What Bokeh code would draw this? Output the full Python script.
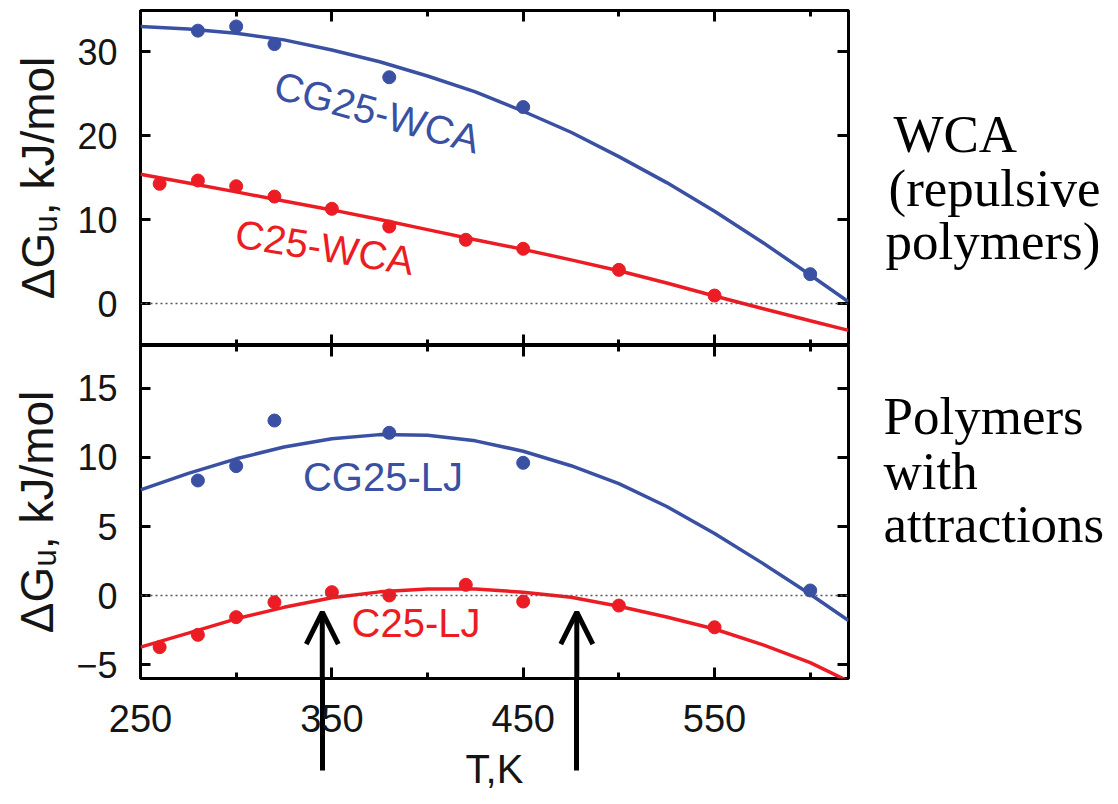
from bokeh.plotting import figure
from bokeh.layouts import column, row
from bokeh.models import (Range1d, LinearAxis, FixedTicker, Span, Label, Arrow, OpenHead,
                          CustomLabelingPolicy)
from bokeh.embed import file_html
from bokeh.resources import INLINE

# ---------------- data ----------------
T_curve = [250, 275, 300, 325, 350, 375, 400, 425, 450, 475, 500, 525, 550, 575, 600, 620]

# Top panel: WCA (repulsive polymers)
cg25_wca_T = [280, 300, 320, 380, 450, 600]
cg25_wca_G = [32.5, 33.0, 30.9, 26.95, 23.4, 3.5]
cg25_wca_fit = [33.0, 32.7, 32.2, 31.4, 30.2, 28.8, 27.1, 25.2, 22.9, 20.4, 17.5, 14.4, 11.0, 7.3, 3.4, 0.2]

c25_wca_T = [260, 280, 300, 320, 350, 380, 420, 450, 500, 550]
c25_wca_G = [14.26, 14.65, 13.97, 12.74, 11.28, 9.17, 7.59, 6.52, 4.01, 0.95]
c25_wca_fit = [15.4, 14.35, 13.3, 12.2, 11.15, 10.0, 8.8, 7.6, 6.45, 5.2, 3.9, 2.45, 0.9, -0.6, -2.05, -3.2]

# Bottom panel: polymers with attractions (LJ)
cg25_lj_T = [280, 300, 320, 380, 450, 600]
cg25_lj_G = [8.33, 9.37, 12.67, 11.78, 9.61, 0.37]
cg25_lj_fit = [7.65, 8.85, 9.9, 10.75, 11.35, 11.65, 11.6, 11.2, 10.45, 9.4, 8.1, 6.45, 4.5, 2.35, 0.1, -1.8]

c25_lj_T = [260, 280, 300, 320, 350, 380, 420, 450, 500, 550]
c25_lj_G = [-3.73, -2.84, -1.56, -0.48, 0.25, 0.01, 0.78, -0.43, -0.72, -2.29]
c25_lj_fit = [-3.73, -2.72, -1.68, -0.85, -0.15, 0.27, 0.48, 0.48, 0.25, -0.12, -0.77, -1.55, -2.42, -3.55, -4.85, -6.2]

# arrows marking where the C25-LJ curve crosses zero
arrow_T = [345, 478]

x_major = [250, 350, 450, 550]
x_minor = [300, 400, 500, 600]
top_yticks = [0, 10, 20, 30]
bot_yticks = [-5, 0, 5, 10, 15]

X0, X1 = 250, 620
TOP_Y = (-5, 34.9)
BOT_Y = (-6, 18.1)

BLUE = "#3a50a2"
RED = "#ec1c24"
SANS = "Liberation Sans"
SERIF = "Liberation Serif"
TXT = "#151515"


def no_labels():
    return CustomLabelingPolicy(code="for (const i of indices) indices.unset(i); return indices")


def tick_axis(ticker):
    return LinearAxis(ticker=ticker, axis_line_color=None,
                      major_tick_in=11, major_tick_out=0, minor_tick_in=6, minor_tick_out=0,
                      major_tick_line_width=3, minor_tick_line_width=3,
                      major_tick_line_color="black", minor_tick_line_color="black",
                      major_label_text_font_size="0px", major_label_standoff=0,
                      major_label_policy=no_labels())


def left_axis(yticks):
    return LinearAxis(ticker=FixedTicker(ticks=yticks, minor_ticks=[]), axis_line_color=None,
                      major_tick_in=10, major_tick_out=0, minor_tick_in=0, minor_tick_out=0,
                      major_tick_line_width=3, major_tick_line_color="black",
                      major_label_standoff=23, major_label_text_font=SANS,
                      major_label_text_font_size="36px", major_label_text_color=TXT,
                      major_label_overrides={-5: "\u22125"},
                      axis_label="\u0394G\u1d64, kJ/mol", axis_label_text_font=SANS,
                      axis_label_text_font_size="46px", axis_label_text_font_style="normal",
                      axis_label_text_color=TXT, axis_label_standoff=10)


def base_fig(yr, fh, b_top, b_bottom):
    return figure(x_range=Range1d(X0, X1), y_range=Range1d(*yr),
                  frame_width=708, frame_height=fh,
                  min_border_left=140, min_border_right=2,
                  min_border_top=b_top, min_border_bottom=b_bottom,
                  x_axis_type=None, y_axis_type=None,
                  toolbar_location=None, output_backend="svg",
                  background_fill_color="white", border_fill_color="white",
                  outline_line_color="black", outline_line_width=3)


xt = lambda: FixedTicker(ticks=x_major, minor_ticks=x_minor)
yt = lambda t: FixedTicker(ticks=t, minor_ticks=[])

# ---------------- top panel ----------------
top = base_fig(TOP_Y, 335, 10, 0)
top.add_layout(left_axis(top_yticks), "left")
top.add_layout(tick_axis(yt(top_yticks)), "right")
top.add_layout(tick_axis(xt()), "above")
top.add_layout(tick_axis(xt()), "below")
top.add_layout(Span(location=0, dimension="width", line_color="#555555",
                    line_width=1.5, line_dash="2 3"))

top.line(T_curve, cg25_wca_fit, line_color=BLUE, line_width=3.5)
top.line(T_curve, c25_wca_fit, line_color=RED, line_width=3.5)
top.scatter(cg25_wca_T, cg25_wca_G, size=13, fill_color=BLUE, line_color=BLUE)
top.scatter(c25_wca_T, c25_wca_G, size=13, fill_color=RED, line_color=RED)

top.add_layout(Label(x=373.7, y=22.8, text="CG25-WCA", angle=-0.27, text_align="center",
                     text_baseline="middle", text_font=SANS, text_font_size="40px",
                     text_color=BLUE))
top.add_layout(Label(x=346.2, y=6.7, text="C25-WCA", angle=-0.157, text_align="center",
                     text_baseline="middle", text_font=SANS, text_font_size="40px",
                     text_color=RED))

# ---------------- bottom panel ----------------
bot = base_fig(BOT_Y, 333, 0, 126)
bot.add_layout(left_axis(bot_yticks), "left")
bot.add_layout(tick_axis(yt(bot_yticks)), "right")
bot.add_layout(tick_axis(xt()), "above")

# lower shafts of the two arrows: outward ticks of a label-less axis (size 0, nearest the frame)
arrow_axis = LinearAxis(ticker=FixedTicker(ticks=arrow_T, minor_ticks=[]), axis_line_color=None,
                        major_tick_in=-92, major_tick_out=0, minor_tick_in=0, minor_tick_out=0,
                        major_tick_line_width=5, major_tick_line_color="black",
                        major_label_text_font_size="0px", major_label_standoff=0,
                        major_label_policy=no_labels())
bot.add_layout(arrow_axis, "below")

bottom_axis = LinearAxis(ticker=xt(), axis_line_color=None,
                         major_tick_in=11, major_tick_out=0, minor_tick_in=6, minor_tick_out=0,
                         major_tick_line_width=3, minor_tick_line_width=3,
                         major_tick_line_color="black", minor_tick_line_color="black",
                         major_label_standoff=26, major_label_text_font=SANS,
                         major_label_text_font_size="38px", major_label_text_color=TXT,
                         axis_label="T,K", axis_label_text_font=SANS,
                         axis_label_text_font_size="40px", axis_label_text_font_style="normal",
                         axis_label_text_color=TXT, axis_label_standoff=12)
bot.add_layout(bottom_axis, "below")
bot.add_layout(Span(location=0, dimension="width", line_color="#555555",
                    line_width=1.5, line_dash="2 3"))

bot.line(T_curve, cg25_lj_fit, line_color=BLUE, line_width=3.5)
bot.line(T_curve, c25_lj_fit, line_color=RED, line_width=3.5)
bot.scatter(cg25_lj_T, cg25_lj_G, size=13, fill_color=BLUE, line_color=BLUE)
bot.scatter(c25_lj_T, c25_lj_G, size=13, fill_color=RED, line_color=RED)

bot.add_layout(Label(x=376.7, y=8.55, text="CG25-LJ", text_align="center", text_baseline="middle",
                     text_font=SANS, text_font_size="40px", text_color=BLUE))
bot.add_layout(Label(x=394.0, y=-2.0, text="C25-LJ", text_align="center", text_baseline="middle",
                     text_font=SANS, text_font_size="40px", text_color=RED))

for t in arrow_T:
    bot.add_layout(Arrow(end=OpenHead(size=32, line_width=5, line_color="black"),
                         x_start=t, y_start=BOT_Y[0], x_end=t, y_end=-1.2,
                         line_width=5, line_color="black"))

# ---------------- right-hand captions ----------------
side = figure(width=268, height=804, x_range=Range1d(0, 268), y_range=Range1d(804, 0),
              x_axis_type=None, y_axis_type=None, toolbar_location=None, output_backend="svg",
              min_border=0, min_border_left=0, min_border_right=0, min_border_top=0,
              min_border_bottom=0, outline_line_color=None,
              background_fill_color="white", border_fill_color="white")
for txt, xx, yy in [("WCA", 43, 133), ("(repulsive", 38, 187), ("polymers)", 35, 240),
                    ("Polymers", 33, 415), ("with", 33, 470), ("attractions", 33, 523)]:
    side.add_layout(Label(x=xx, y=yy, text=txt, text_align="left", text_baseline="alphabetic",
                          text_font=SERIF, text_font_size="53px", text_color="black"))

layout = row(column(top, bot, spacing=0), side, spacing=0)
open("out.html", "w").write(file_html(layout, INLINE))
